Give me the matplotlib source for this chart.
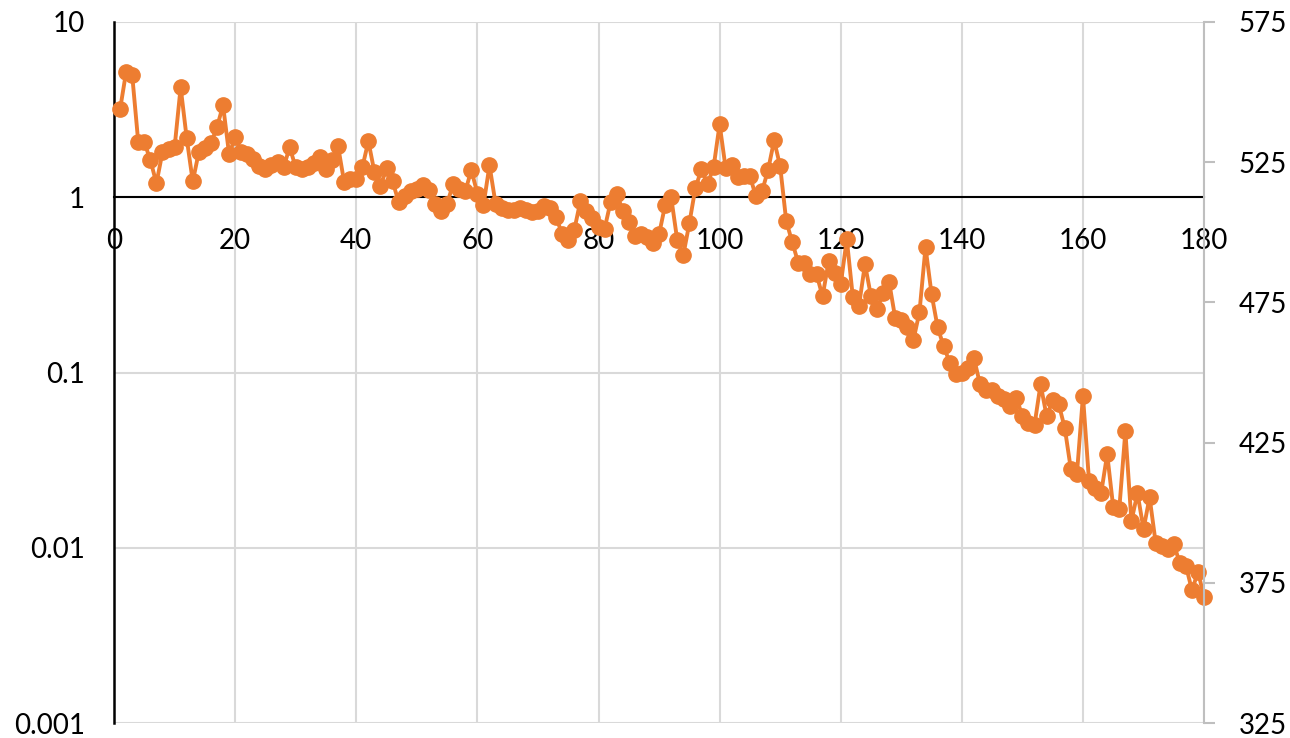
import matplotlib.pyplot as plt
from matplotlib.ticker import FixedLocator, NullLocator

plt.rcParams['font.family'] = ['Lato', 'DejaVu Sans']

# sample index and measured ratio (log scale on the left axis)
steps = list(range(1, 181))
ratio = [
    3.18, 5.2, 4.97, 2.06, 2.06, 1.63, 1.2, 1.81, 1.88, 1.93,
    4.24, 2.17, 1.23, 1.81, 1.9, 2.03, 2.51, 3.35, 1.76, 2.2,
    1.81, 1.76, 1.65, 1.5, 1.44, 1.52, 1.58, 1.48, 1.93, 1.48,
    1.44, 1.48, 1.56, 1.69, 1.44, 1.63, 1.95, 1.22, 1.27, 1.27,
    1.48, 2.09, 1.39, 1.16, 1.46, 1.23, 0.94, 1.01, 1.08, 1.11,
    1.17, 1.1, 0.91, 0.83, 0.92, 1.19, 1.11, 1.08, 1.43, 1.05,
    0.9, 1.52, 0.92, 0.87, 0.85, 0.85, 0.87, 0.85, 0.82, 0.84,
    0.89, 0.87, 0.77, 0.615, 0.57, 0.65, 0.95, 0.84, 0.76, 0.68,
    0.66, 0.94, 1.05, 0.84, 0.72, 0.6, 0.62, 0.59, 0.547, 0.615,
    0.9, 1.0, 0.57, 0.467, 0.71, 1.13, 1.44, 1.19, 1.48, 2.61,
    1.46, 1.52, 1.3, 1.32, 1.32, 1.01, 1.08, 1.43, 2.11, 1.5,
    0.73, 0.554, 0.42, 0.42, 0.364, 0.364, 0.272, 0.43, 0.37, 0.319,
    0.576, 0.269, 0.239, 0.415, 0.272, 0.23, 0.284, 0.327, 0.204, 0.199,
    0.181, 0.153, 0.221, 0.518, 0.28, 0.181, 0.141, 0.114, 0.0977, 0.1,
    0.106, 0.121, 0.0857, 0.079, 0.079, 0.0735, 0.0707, 0.0642, 0.072, 0.0563,
    0.0512, 0.0503, 0.0857, 0.0563, 0.0695, 0.066, 0.0481, 0.0281, 0.0263, 0.0735,
    0.024, 0.0218, 0.0205, 0.0342, 0.017, 0.0167, 0.0462, 0.0142, 0.0205, 0.0128,
    0.0194, 0.0107, 0.0103, 0.0098, 0.0105, 0.00816, 0.0079, 0.00572, 0.0073, 0.00521,
]

x_ticks = list(range(0, 181, 20))
left_ticks = [0.001, 0.01, 0.1, 1, 10]
left_labels = ['0.001', '0.01', '0.1', '1', '10']
right_ticks = list(range(325, 576, 50))

orange = '#ED7D31'
grid_grey = '#D9D9D9'

fig = plt.figure(figsize=(12.9, 7.38), dpi=100)
ax = fig.add_axes([0.0884, 0.0203, 0.845, 0.9499])

ax.plot(steps, ratio, color=orange, lw=2.8, marker='o', ms=11,
        zorder=4, clip_on=False)

ax.set_yscale('log')
ax.set_ylim(0.001, 10)
ax.set_xlim(0, 180)
ax.yaxis.set_major_locator(FixedLocator(left_ticks))
ax.yaxis.set_minor_locator(NullLocator())
ax.set_yticklabels(left_labels)
ax.set_xticks(x_ticks)

ax.grid(True, color=grid_grey, lw=1.5, zorder=0)
ax.set_axisbelow(True)

# x axis crosses the value axis at 1
for side in ['top', 'right']:
    ax.spines[side].set_visible(False)
ax.spines['bottom'].set_position(('data', 1))
ax.spines['bottom'].set_color('black')
ax.spines['bottom'].set_linewidth(1.5)
ax.spines['bottom'].set_zorder(3)
ax.spines['left'].set_color('black')
ax.spines['left'].set_linewidth(1.8)

ax.tick_params(axis='x', length=0, pad=22, labelsize=20)
ax.tick_params(axis='y', length=0, pad=21, labelsize=20)

# secondary scale on the right
ax2 = ax.twinx()
ax2.set_ylim(325, 575)
ax2.set_yticks(right_ticks)
for side in ['top', 'bottom', 'left']:
    ax2.spines[side].set_visible(False)
ax2.spines['right'].set_color('#BFBFBF')
ax2.spines['right'].set_linewidth(1.5)
ax2.tick_params(axis='y', length=8, width=1.5, color='#BFBFBF',
                pad=17, labelsize=20)

fig.savefig('out.png', dpi=100)
